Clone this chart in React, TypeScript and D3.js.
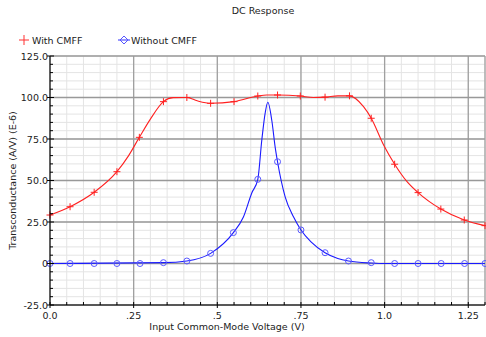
import * as d3 from "d3";

// Input common-mode voltage (V) vs transconductance (E-6 A/V)
const withCmffLine: [number, number][] = [
  [0, 29.2], [0.06, 34.2], [0.132, 42.9], [0.2, 55.3], [0.235, 65], [0.267, 76],
  [0.3, 87], [0.339, 97.5], [0.368, 99.9], [0.409, 100], [0.44, 98], [0.48, 96.5],
  [0.55, 97.5], [0.621, 100.9], [0.648, 101.5], [0.68, 101.5], [0.748, 100.9],
  [0.787, 100], [0.822, 100.2], [0.86, 101], [0.895, 101], [0.937, 94.5],
  [0.96, 87.5], [0.997, 71.4], [1.03, 59.8], [1.067, 49.3], [1.1, 42.7],
  [1.168, 32.8], [1.238, 26.2], [1.3, 22.8],
];
const withCmffMarks: [number, number][] = [
  [0, 29.2], [0.06, 34.2], [0.132, 42.9], [0.2, 55.3], [0.267, 76], [0.339, 97.5],
  [0.409, 100], [0.48, 96.5], [0.55, 97.5], [0.621, 100.9], [0.68, 101.5],
  [0.748, 100.9], [0.822, 100.2], [0.895, 101], [0.96, 87.5], [1.03, 59.8],
  [1.1, 42.7], [1.168, 32.8], [1.238, 26.2], [1.3, 22.8],
];
const withoutCmffLine: [number, number][] = [
  [0, 0], [0.339, 0.5], [0.409, 1.5], [0.48, 6.1], [0.548, 18.6], [0.578, 28],
  [0.603, 42.5], [0.621, 50.7], [0.633, 74.4], [0.643, 90.6], [0.651, 97.1],
  [0.663, 86], [0.673, 70], [0.68, 61.3], [0.703, 40], [0.728, 28], [0.75, 20.2],
  [0.78, 13], [0.822, 6.5], [0.86, 3], [0.892, 1.5], [0.96, 0.3], [1.0, 0], [1.3, 0],
];
const withoutCmffMarks: [number, number][] = [
  [0, 0], [0.06, 0], [0.132, 0], [0.2, 0], [0.269, 0], [0.339, 0.5], [0.409, 1.5],
  [0.48, 6.1], [0.548, 18.6], [0.621, 50.7], [0.68, 61.3], [0.75, 20.2],
  [0.822, 6.5], [0.892, 1.5], [0.96, 0.5], [1.03, 0], [1.1, 0], [1.169, 0],
  [1.239, 0], [1.3, 0],
];
const xTicks = [0, 0.25, 0.5, 0.75, 1.0, 1.25];
const xTickLabels = ["0.0", ".25", ".5", ".75", "1.0", "1.25"];
const yTicks = [125, 100, 75, 50, 25, 0, -25];
const yTickLabels = ["125.0", "100.0", "75.0", "50.0", "25.0", "0", "-25.0"];

const W = 486;
const H = 337;
const left = 50, right = 485, top = 56, bottom = 305;
const font = "DejaVu Sans, sans-serif";

export default function App() {
  const x = d3.scaleLinear().domain([0, 1.3]).range([left, right]);
  const y = d3.scaleLinear().domain([-25, 125]).range([bottom, top]);
  const line = d3
    .line<[number, number]>()
    .x((d) => x(d[0]))
    .y((d) => y(d[1]))
    .curve(d3.curveMonotoneX);

  const minorX = d3.range(0, 1.3001, 0.05);
  const minorY = d3.range(-25, 125.001, 5);

  return (
    <svg
      width={W}
      height={H}
      style={{ position: "absolute", left: 0, top: 0, background: "#fff" }}
      fontFamily={font}
    >
      <text x={263} y={14} fontSize={9.5} textAnchor="middle" fill="#222">
        DC Response
      </text>

      {/* legend */}
      <g fontSize={9.5} fill="#222">
        <line x1={19} x2={29} y1={40} y2={40} stroke="#ff3030" />
        <line x1={24} x2={24} y1={35} y2={45} stroke="#ff3030" />
        <text x={32} y={43.5}>With CMFF</text>
        <line x1={118} x2={130} y1={40} y2={40} stroke="#3030ff" />
        <path d="M124,36L128,40L124,44L120,40Z" fill="none" stroke="#5555ff" />
        <text x={131} y={43.5}>Without CMFF</text>
      </g>

      {/* grid */}
      {minorX.map((v, i) => (
        <line key={"mx" + i} x1={x(v)} x2={x(v)} y1={top} y2={bottom} stroke="#e4e4e4" />
      ))}
      {minorY.map((v, i) => (
        <line key={"my" + i} x1={left} x2={right} y1={y(v)} y2={y(v)} stroke="#e4e4e4" />
      ))}
      {xTicks.map((v, i) => (
        <line key={"gx" + i} x1={x(v)} x2={x(v)} y1={top} y2={bottom} stroke="#a0a0a0" strokeWidth={1.3} />
      ))}
      {yTicks.map((v, i) => (
        <line key={"gy" + i} x1={left} x2={right} y1={y(v)} y2={y(v)} stroke="#999" strokeWidth={1.3} />
      ))}
      <line x1={right} x2={right} y1={top} y2={bottom} stroke="#a0a0a0" strokeWidth={1.3} />

      {/* series */}
      <path d={line(withCmffLine) ?? ""} fill="none" stroke="#ff2020" strokeWidth={1.1} />
      <path d={line(withoutCmffLine) ?? ""} fill="none" stroke="#1a1aff" strokeWidth={1.1} />
      {withCmffMarks.map((d, i) => (
        <g key={"r" + i} stroke="#ff2020" strokeWidth={1}>
          <line x1={x(d[0]) - 3.5} x2={x(d[0]) + 3.5} y1={y(d[1])} y2={y(d[1])} />
          <line x1={x(d[0])} x2={x(d[0])} y1={y(d[1]) - 3.5} y2={y(d[1]) + 3.5} />
        </g>
      ))}
      {withoutCmffMarks.map((d, i) => (
        <g key={"b" + i} fill="none" stroke="#5a5aff" strokeWidth={1}>
          <circle cx={x(d[0])} cy={y(d[1])} r={3} />
        </g>
      ))}

      {/* axes */}
      <line x1={left} x2={left} y1={top} y2={bottom} stroke="#000" />
      <line x1={left} x2={right} y1={bottom} y2={bottom} stroke="#000" />
      {minorY.map((v, i) => (
        <line key={"ty" + i} x1={left} x2={left + (v % 25 === 0 ? 4 : 3)} y1={y(v)} y2={y(v)} stroke="#000" />
      ))}
      {minorX.map((v, i) => (
        <line key={"tx" + i} x1={x(v)} x2={x(v)} y1={bottom} y2={bottom - 3} stroke="#000" />
      ))}
      {yTicks.map((v, i) => (
        <g key={"ly" + i}>
          <line x1={left - 3} x2={left} y1={y(v)} y2={y(v)} stroke="#000" />
          <text x={left - 2} y={y(v) + 3.5} fontSize={9.5} textAnchor="end" fill="#222">
            {yTickLabels[i]}
          </text>
        </g>
      ))}
      {xTicks.map((v, i) => (
        <g key={"lx" + i}>
          <line x1={x(v)} x2={x(v)} y1={bottom} y2={bottom + 3} stroke="#000" />
          <text x={x(v)} y={bottom + 14} fontSize={9.5} textAnchor="middle" fill="#222">
            {xTickLabels[i]}
          </text>
        </g>
      ))}
      <text x={227} y={330} fontSize={9.5} textAnchor="middle" fill="#222">
        Input Common-Mode Voltage (V)
      </text>
      <text
        transform={`translate(16,${(top + bottom) / 2}) rotate(-90)`}
        fontSize={9.5}
        textAnchor="middle"
        fill="#222"
      >
        Transconductance (A/V) (E-6)
      </text>
    </svg>
  );
}
